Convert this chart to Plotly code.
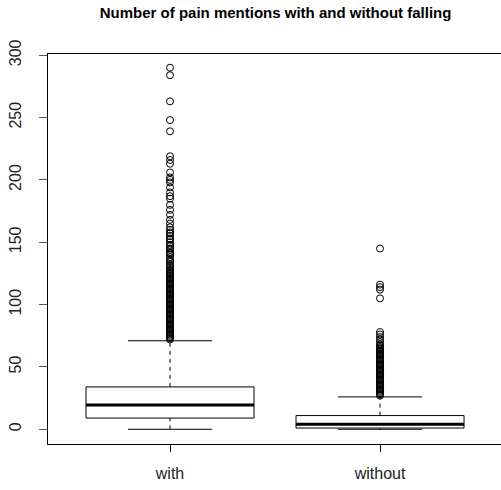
import plotly.graph_objects as go

categories = ["with", "without"]
q1 = [9, 1]
median = [19.5, 4]
q3 = [34, 11]
whisker_lo = [0, 0]
whisker_hi = [71, 26]

with_outliers = (list(range(72, 126)) +
                 [126, 127, 128, 130, 131, 132, 134, 135, 136, 138, 140, 141, 142,
                  144, 145, 147, 148, 150, 152, 153, 155, 157, 158, 160,
                  162, 165, 168, 172, 176, 180, 185, 187, 190, 194, 198, 200, 202,
                  206, 213, 216, 219, 239, 248, 263, 284, 290])
without_outliers = (list(range(27, 69)) + [70, 72, 74, 76, 78, 105, 112, 114, 116, 145])
outliers = [with_outliers, without_outliers]

yticks = [0, 50, 100, 150, 200, 250, 300]

pos = [i + 1 for i in range(len(categories))]
half = 0.4
staple = 0.2

fig = go.Figure()

# whiskers (dashed)
wx, wy = [], []
for p, lo, a, b, hi in zip(pos, whisker_lo, q1, q3, whisker_hi):
    wx += [p, p, None, p, p, None]
    wy += [lo, a, None, b, hi, None]
fig.add_trace(go.Scatter(x=wx, y=wy, mode="lines",
                         line=dict(color="black", width=1, dash="4px,4px"),
                         hoverinfo="skip", showlegend=False))
# staples
sx, sy = [], []
for p, lo, hi in zip(pos, whisker_lo, whisker_hi):
    sx += [p - staple, p + staple, None, p - staple, p + staple, None]
    sy += [lo, lo, None, hi, hi, None]
fig.add_trace(go.Scatter(x=sx, y=sy, mode="lines",
                         line=dict(color="black", width=1),
                         hoverinfo="skip", showlegend=False))

# box bodies
fig.add_trace(go.Box(x=pos, q1=q1, median=median, q3=q3,
                     lowerfence=q1, upperfence=q3, width=2 * half,
                     whiskerwidth=0, fillcolor="white",
                     line=dict(color="black", width=1),
                     boxpoints=False, showlegend=False))

# thick medians
mx, my = [], []
for p, m in zip(pos, median):
    mx += [p - half, p + half, None]
    my += [m, m, None]
fig.add_trace(go.Scatter(x=mx, y=my, mode="lines",
                         line=dict(color="black", width=3),
                         hoverinfo="skip", showlegend=False))

# outliers
for p, vals in zip(pos, outliers):
    fig.add_trace(go.Scatter(x=[p] * len(vals), y=vals, mode="markers",
                             marker=dict(symbol="circle-open", size=7,
                                         color="black", line=dict(width=1)),
                             showlegend=False))

fig.update_layout(
    width=501, height=490,
    margin=dict(l=48, r=0, t=54, b=46),
    plot_bgcolor="white", paper_bgcolor="white",
    font=dict(family="Liberation Sans, Arial, sans-serif", color="black"),
    title=dict(text="<b>Number of pain mentions with and without falling</b>",
               x=0.55, xanchor="center", y=0.985, yanchor="top",
               font=dict(size=15, color="black")),
)
fig.update_xaxes(range=[0.419, 2.576], tickvals=pos, ticktext=categories,
                 showgrid=False, zeroline=False,
                 showline=True, linecolor="black", linewidth=1, mirror=True,
                 ticks="outside", ticklen=7, tickcolor="black",
                 ticklabelstandoff=8,
                 tickfont=dict(size=16, color="#222"))
fig.update_yaxes(range=[-11.8, 301], tickvals=yticks,
                 showgrid=False, zeroline=False,
                 showline=True, linecolor="black", linewidth=1, mirror=False,
                 ticks="outside", ticklen=8, tickcolor="#555",
                 tickangle=-90, ticklabelstandoff=12,
                 tickfont=dict(size=16, color="#222"))

fig.write_html("out.html")
